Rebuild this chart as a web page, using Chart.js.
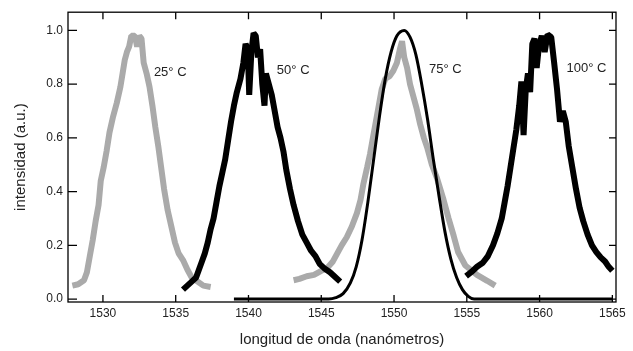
<!DOCTYPE html>
<html>
<head>
<meta charset="utf-8">
<title>Espectros vs temperatura</title>
<script src="https://cdn.jsdelivr.net/npm/chart.js@4.4.0/dist/chart.umd.min.js"></script>
<style>
  html, body { margin: 0; padding: 0; background: #fff; }
  #spec { display: block; }
</style>
</head>
<body>
<canvas id="spec" width="633" height="351"></canvas>
<script>
// espectros medidos a 25, 50, 75 y 100 °C + curva teórica (línea fina)
const xTicks = [1530, 1535, 1540, 1545, 1550, 1555, 1560, 1565];
const yTicks = [0.0, 0.2, 0.4, 0.6, 0.8, 1.0];
const tempNames = ['25° C', '50° C', '75° C', '100° C'];

const wl25 = [1527.9, 1528.3, 1528.7, 1528.9, 1529.1, 1529.3, 1529.5, 1529.7, 1529.85, 1530.05,
  1530.25, 1530.45, 1530.7, 1530.95, 1531.2, 1531.35, 1531.5, 1531.65, 1531.8, 1531.95,
  1532.2, 1532.35, 1532.5, 1532.65, 1532.8, 1533.0, 1533.2, 1533.4, 1533.6, 1533.8,
  1534.0, 1534.2, 1534.45, 1534.7, 1534.95, 1535.2, 1535.5, 1535.8, 1536.1, 1536.5, 1536.9, 1537.4];
const int25 = [0.05, 0.055, 0.07, 0.10, 0.16, 0.22, 0.29, 0.35, 0.44, 0.49,
  0.55, 0.62, 0.68, 0.73, 0.79, 0.84, 0.89, 0.92, 0.94, 0.98,
  0.98, 0.94, 0.98, 0.97, 0.88, 0.84, 0.79, 0.72, 0.64, 0.57,
  0.49, 0.41, 0.33, 0.27, 0.21, 0.17, 0.145, 0.11, 0.08, 0.065, 0.05, 0.045];

const wl50 = [1535.5, 1535.8, 1536.1, 1536.4, 1536.6, 1536.8, 1537.0, 1537.2, 1537.4, 1537.6,
  1537.8, 1538.0, 1538.2, 1538.4, 1538.6, 1538.8, 1539.0, 1539.2, 1539.45, 1539.65,
  1539.8, 1539.95, 1540.05, 1540.2, 1540.35, 1540.5, 1540.65, 1540.8, 1540.95, 1541.1,
  1541.2, 1541.4, 1541.6, 1541.8, 1542.0, 1542.2, 1542.4, 1542.6, 1542.85, 1543.1,
  1543.4, 1543.7, 1544.0, 1544.3, 1544.6, 1544.9, 1545.2, 1545.6, 1545.9, 1546.3];
const int50 = [0.035, 0.05, 0.065, 0.08, 0.11, 0.14, 0.17, 0.21, 0.26, 0.30,
  0.36, 0.42, 0.47, 0.52, 0.59, 0.66, 0.72, 0.77, 0.82, 0.88,
  0.95, 0.93, 0.76, 0.92, 0.99, 0.98, 0.90, 0.93, 0.80, 0.72,
  0.84, 0.80, 0.76, 0.70, 0.64, 0.60, 0.55, 0.48, 0.41, 0.35,
  0.29, 0.24, 0.21, 0.18, 0.16, 0.13, 0.115, 0.10, 0.085, 0.065];

const wl75 = [1543.1, 1543.5, 1544.0, 1544.5, 1545.0, 1545.4, 1545.8, 1546.1, 1546.4, 1546.75,
  1547.1, 1547.45, 1547.7, 1547.9, 1548.15, 1548.35, 1548.55, 1548.75, 1548.95, 1549.15,
  1549.4, 1549.7, 1549.95, 1550.2, 1550.4, 1550.55, 1550.7, 1550.9, 1551.1, 1551.3,
  1551.55, 1551.8, 1552.05, 1552.3, 1552.6, 1552.95, 1553.4, 1553.75, 1554.1, 1554.4,
  1554.9, 1555.7, 1556.4, 1556.95];
const int75 = [0.07, 0.075, 0.085, 0.09, 0.105, 0.115, 0.14, 0.17, 0.20, 0.23,
  0.27, 0.32, 0.37, 0.43, 0.49, 0.54, 0.60, 0.66, 0.72, 0.78,
  0.82, 0.83, 0.85, 0.88, 0.93, 0.96, 0.90, 0.86, 0.80, 0.76,
  0.71, 0.65, 0.60, 0.56, 0.50, 0.45, 0.37, 0.30, 0.235, 0.175,
  0.125, 0.09, 0.068, 0.05];

const wl100 = [1554.95, 1555.3, 1555.7, 1556.1, 1556.45, 1556.8, 1557.1, 1557.4, 1557.6, 1557.8,
  1558.0, 1558.2, 1558.4, 1558.6, 1558.75, 1558.9, 1559.05, 1559.2, 1559.35, 1559.5,
  1559.65, 1559.8, 1559.95, 1560.15, 1560.35, 1560.55, 1560.8, 1561.0, 1561.2, 1561.4,
  1561.6, 1561.8, 1562.0, 1562.25, 1562.5, 1562.75, 1563.0, 1563.3, 1563.6, 1563.9,
  1564.2, 1564.5, 1564.75, 1565.0];
const int100 = [0.085, 0.10, 0.12, 0.135, 0.16, 0.20, 0.245, 0.30, 0.36, 0.42,
  0.49, 0.56, 0.63, 0.72, 0.81, 0.61, 0.78, 0.84, 0.77, 0.95,
  0.97, 0.86, 0.94, 0.98, 0.92, 0.985, 0.975, 0.88, 0.78, 0.66,
  0.70, 0.66, 0.57, 0.49, 0.41, 0.34, 0.29, 0.24, 0.20, 0.175,
  0.155, 0.14, 0.12, 0.105];

const wlFit = [1539.0, 1545.5, 1546.0, 1546.5, 1547.0, 1547.4, 1547.8, 1548.2, 1548.6, 1549.0,
  1549.4, 1549.8, 1550.2, 1550.7, 1551.1, 1551.5, 1551.9, 1552.3, 1552.7, 1553.1,
  1553.5, 1553.9, 1554.3, 1554.7, 1555.1, 1555.5, 1565.0];
const intFit = [0, 0, 0.005, 0.02, 0.06, 0.12, 0.22, 0.36, 0.52, 0.68,
  0.82, 0.92, 0.98, 1.0, 0.975, 0.91, 0.80, 0.67, 0.52, 0.38,
  0.25, 0.15, 0.08, 0.035, 0.01, 0, 0];

(function() {
    const FONT = '"Liberation Sans", Arial, sans-serif';
    const GRAY = '#aaaaaa';
    // where the temperature captions sit (data units)
    const captionAt = [[1533.5, 0.845], [1541.95, 0.85], [1552.4, 0.855], [1561.85, 0.858]];

    function pts(xs, ys) { return xs.map((v, i) => ({ x: v, y: ys[i] })); }

    function thick(data, color) {
        return { data: pts(data[0], data[1]), borderColor: color, borderWidth: 6, borderJoinStyle: 'bevel',
            pointRadius: 0, showLine: true, tension: 0, order: color === GRAY ? 2 : 1 };
    }

    const framePlugin = {
        id: 'frame',
        afterDatasetsDraw(chart) {
            const { ctx, chartArea: a, scales: { x, y } } = chart;
            ctx.save();
            ctx.strokeStyle = '#000';
            ctx.lineWidth = 1.3;
            ctx.strokeRect(a.left, a.top, a.right - a.left, a.bottom - a.top);
            ctx.beginPath();
            xTicks.forEach(v => {
                const px = x.getPixelForValue(v);
                ctx.moveTo(px, a.bottom); ctx.lineTo(px, a.bottom - 7);
                ctx.moveTo(px, a.top); ctx.lineTo(px, a.top + 7);
            });
            yTicks.forEach(v => {
                const py = y.getPixelForValue(v);
                ctx.moveTo(a.left, py); ctx.lineTo(a.left + 9, py);
                ctx.moveTo(a.right, py); ctx.lineTo(a.right - 7, py);
            });
            ctx.stroke();
            ctx.fillStyle = '#222';
            ctx.font = '13px ' + FONT;
            ctx.textBaseline = 'middle';
            tempNames.forEach((t, i) => {
                ctx.fillText(t, x.getPixelForValue(captionAt[i][0]), y.getPixelForValue(captionAt[i][1]));
            });
            ctx.restore();
        }
    };

    new Chart(document.getElementById('spec'), {
        type: 'scatter',
        data: {
            datasets: [
                thick([wl25, int25], GRAY),
                thick([wl75, int75], GRAY),
                thick([wl50, int50], '#000'),
                thick([wl100, int100], '#000'),
                { data: pts(wlFit, intFit), borderColor: '#000', borderWidth: 3, pointRadius: 0,
                  showLine: true, cubicInterpolationMode: 'monotone', order: 0 }
            ]
        },
        options: {
            responsive: false, animation: false,
            layout: { padding: { top: 10, right: 17, left: 0, bottom: 0 } },
            plugins: { legend: { display: false }, tooltip: { enabled: false } },
            scales: {
                x: {
                    type: 'linear', min: 1527.6, max: 1565.25,
                    grid: { display: false, drawTicks: false }, border: { display: false },
                    afterBuildTicks: s => { s.ticks = xTicks.map(v => ({ value: v })); },
                    afterFit: s => { s.height = 49; },
                    ticks: { padding: 4, color: '#222', font: { family: FONT, size: 12 }, maxRotation: 0,
                        callback: v => String(v) },
                    title: { display: true, text: 'longitud de onda (nanómetros)', color: '#222',
                        font: { family: FONT, size: 15 }, padding: { top: 0, bottom: 2 } }
                },
                y: {
                    min: -0.011, max: 1.068,
                    grid: { display: false, drawTicks: false }, border: { display: false },
                    afterBuildTicks: s => { s.ticks = yTicks.map(v => ({ value: v })); },
                    afterFit: s => { s.width = 68; },
                    ticks: { padding: 5, color: '#222', font: { family: FONT, size: 12 },
                        callback: v => Number(v).toFixed(1) },
                    title: { display: true, text: 'intensidad (a.u.)', color: '#222',
                        font: { family: FONT, size: 15 }, padding: { top: 12, bottom: 0 } }
                }
            }
        },
        plugins: [framePlugin]
    });
})();
</script>
</body>
</html>
